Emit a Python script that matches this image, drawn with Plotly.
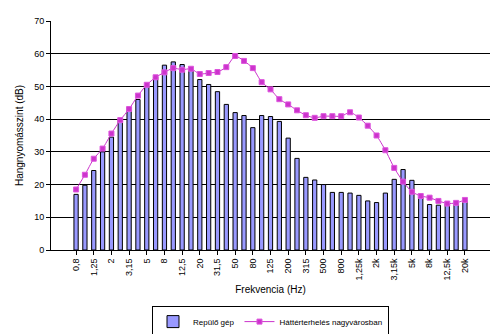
import plotly.graph_objects as go

# 1/3-octave band centre frequencies (Hz)
freq_labels = ["0,8", "1", "1,25", "1,6", "2", "2,5", "3,15", "4", "5", "6,3",
               "8", "10", "12,5", "16", "20", "25", "31,5", "40", "50", "63",
               "80", "100", "125", "160", "200", "250", "315", "400", "500", "630",
               "800", "1k", "1,25k", "1,6k", "2k", "2,5k", "3,15k", "4k", "5k", "6,3k",
               "8k", "10k", "12,5k", "16k", "20k"]

# Aircraft noise spectrum (dB)
aircraft_db = [17.0, 19.8, 24.3, 30.0, 34.5, 40.0, 43.7, 46.0, 50.0, 52.9,
               56.5, 57.5, 56.7, 55.2, 52.1, 50.6, 48.4, 44.5, 42.0, 41.1,
               37.4, 41.1, 40.8, 39.3, 34.2, 28.0, 22.2, 21.4, 20.0, 17.6,
               17.6, 17.4, 16.7, 15.0, 14.5, 17.4, 21.6, 24.6, 21.3, 16.0,
               13.9, 13.7, 14.0, 14.4, 15.0]

# Urban background noise spectrum (dB)
background_db = [18.5, 23.0, 27.9, 31.0, 35.6, 39.7, 43.1, 47.2, 50.5, 52.8,
                 54.3, 55.6, 55.1, 55.4, 53.8, 54.1, 54.4, 55.9, 59.3, 57.8,
                 55.6, 51.3, 49.1, 46.1, 44.5, 42.7, 41.2, 40.4, 40.9, 40.9,
                 40.9, 42.1, 40.5, 38.0, 35.0, 30.5, 25.1, 20.9, 17.8, 16.5,
                 16.0, 15.0, 14.2, 14.4, 15.3]

y_ticks = [0, 10, 20, 30, 40, 50, 60, 70]

font_family = "Arial, Liberation Sans, sans-serif"

fig = go.Figure()
fig.add_trace(go.Bar(
    x=freq_labels, y=aircraft_db, name="Repülő gép",
    marker=dict(color="#9999FF", line=dict(color="#000000", width=1)),
))
fig.add_trace(go.Scatter(
    x=freq_labels, y=background_db, name="Háttérterhelés nagyvárosban",
    mode="lines+markers",
    line=dict(color="#CC33CC", width=1, shape="spline", smoothing=0.6),
    marker=dict(symbol="square", size=5, color="#CC33CC",
                line=dict(color="#DD55DD", width=1)),
))

fig.update_layout(
    width=501, height=334,
    margin=dict(l=51, r=11, t=21, b=84, autoexpand=False),
    paper_bgcolor="white", plot_bgcolor="white",
    font=dict(family=font_family, size=9, color="#000000"),
    bargap=0.52,
    showlegend=True,
    legend=dict(
        orientation="h", x=0.5, xanchor="center", y=-0.245, yanchor="top",
        bordercolor="#000000", borderwidth=1, bgcolor="white",
        font=dict(size=8), tracegroupgap=0,
    ),
)

fig.update_xaxes(
    type="category",
    tickmode="array",
    tickvals=freq_labels[::2],
    ticktext=freq_labels[::2],
    tickangle=-90,
    ticks="outside", ticklen=4, tickcolor="#000000",
    showline=True, linecolor="#000000", linewidth=1,
    showgrid=False, automargin=False,
    title=dict(text="Frekvencia (Hz)", font=dict(size=10), standoff=6),
)
fig.update_yaxes(
    range=[0, 70],
    tickvals=y_ticks,
    ticks="outside", ticklen=4, tickcolor="#000000",
    showline=True, linecolor="#000000", linewidth=1,
    showgrid=True, gridcolor="#000000", gridwidth=1,
    zeroline=False, automargin=False,
    title=dict(text="Hangnyomásszint (dB)", font=dict(size=10), standoff=8),
)

fig.write_html("out.html")
